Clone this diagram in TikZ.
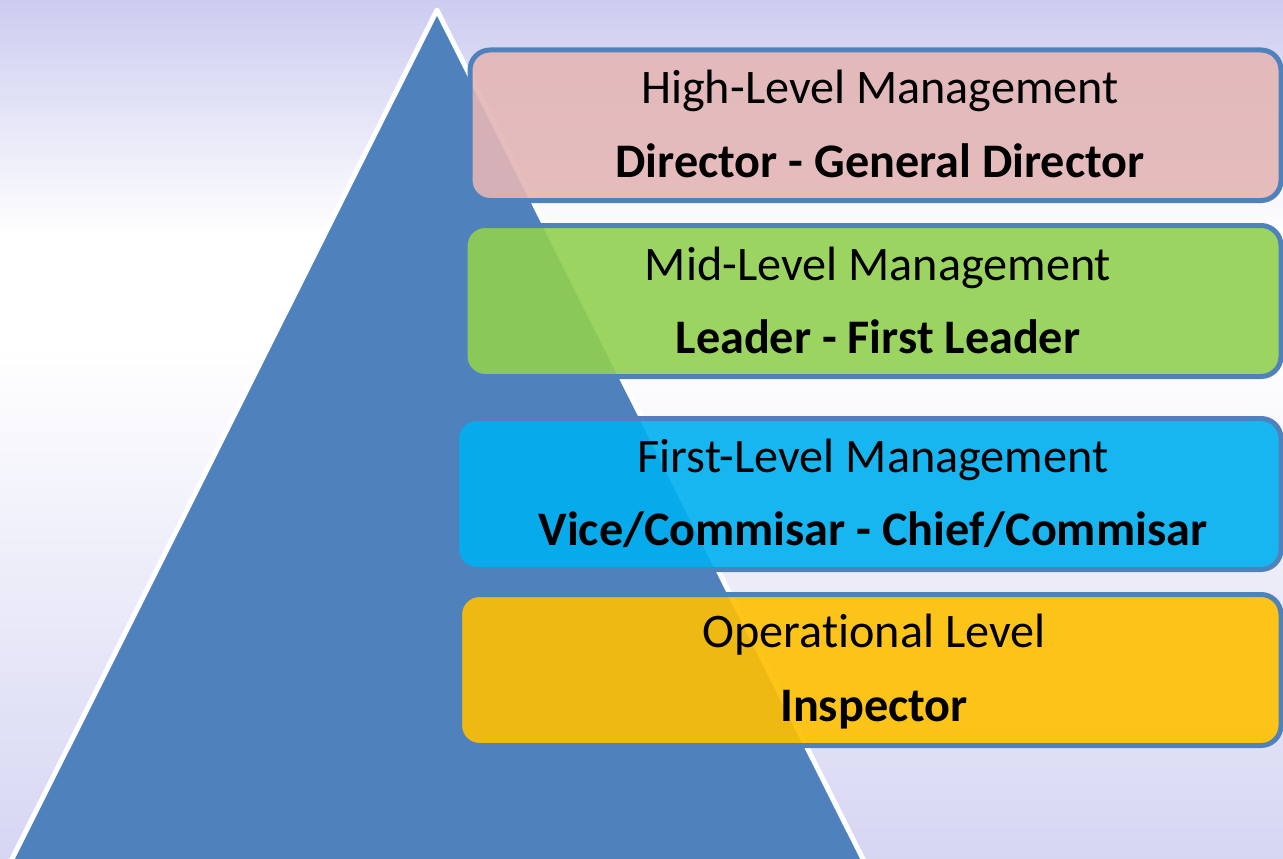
\documentclass[tikz,border=0pt]{standalone}
\usepackage{fontspec}
\setmainfont{Carlito}[RawFeature={-liga;-clig;-calt;-dlig}]
\definecolor{triblue}{RGB}{79,129,189}
\definecolor{bgtop}{RGB}{204,204,240}
\definecolor{bgbot}{RGB}{214,214,243}
\definecolor{pinkfill}{RGB}{228,182,182}
\definecolor{greenfill}{RGB}{146,208,80}
\definecolor{cyanfill}{RGB}{0,176,240}
\definecolor{yellowfill}{RGB}{255,192,0}
\begin{document}
\begin{tikzpicture}[x=1pt,y=-1pt,
  levelbox/.style={rectangle, draw=triblue, line width=5pt, rounded corners=20pt,
    fill opacity=0.9, draw opacity=1, inner sep=0pt, outer sep=0pt},
  titletext/.style={font=\fontsize{48.2}{58}\selectfont, anchor=base, text=black, inner sep=0pt},
  roletext/.style={font=\fontsize{48.2}{58}\selectfont\bfseries, anchor=base, text=black, inner sep=0pt}]
\useasboundingbox (0,0) rectangle (1283,859);
\clip (0,0) rectangle (1283,859);
% background
\shade[top color=bgtop, bottom color=white] (0,0) rectangle (1283,236);
\fill[white] (0,235) rectangle (1283,346);
\shade[top color=white, bottom color=bgbot] (0,345) rectangle (1283,859);
% pyramid
\draw[fill=triblue, draw=white, line width=5pt, line join=round]
  (437,10) -- (1.5,880) -- (873.5,880) -- cycle;
% level boxes
\node[levelbox, fill=pinkfill, minimum width=811pt, minimum height=150.5pt] (b1) at (875.5,125.25) {};
\node[levelbox, fill=greenfill, minimum width=816pt, minimum height=151pt] (b2) at (873,301) {};
\node[levelbox, fill=cyanfill, minimum width=824.5pt, minimum height=151pt] (b3) at (868.75,494) {};
\node[levelbox, fill=yellowfill, minimum width=821.5pt, minimum height=151pt] (b4) at (870.25,670) {};
% texts
\node[titletext] (t1a) at (880,103) {High-Level Management};
\node[roletext]  (t1b) at (880,177) {Director - General Director};
\node[titletext] (t2a) at (878,280) {Mid-Level Management};
\node[roletext]  (t2b) at (878,353) {Leader - First Leader};
\node[titletext] (t3a) at (873,472) {First-Level Management};
\node[roletext]  (t3b) at (873,545) {Vice/Commisar - Chief/Commisar};
\node[titletext] (t4a) at (874,647) {Operational Level};
\node[roletext]  (t4b) at (874,721) {Inspector};
\end{tikzpicture}
\end{document}
